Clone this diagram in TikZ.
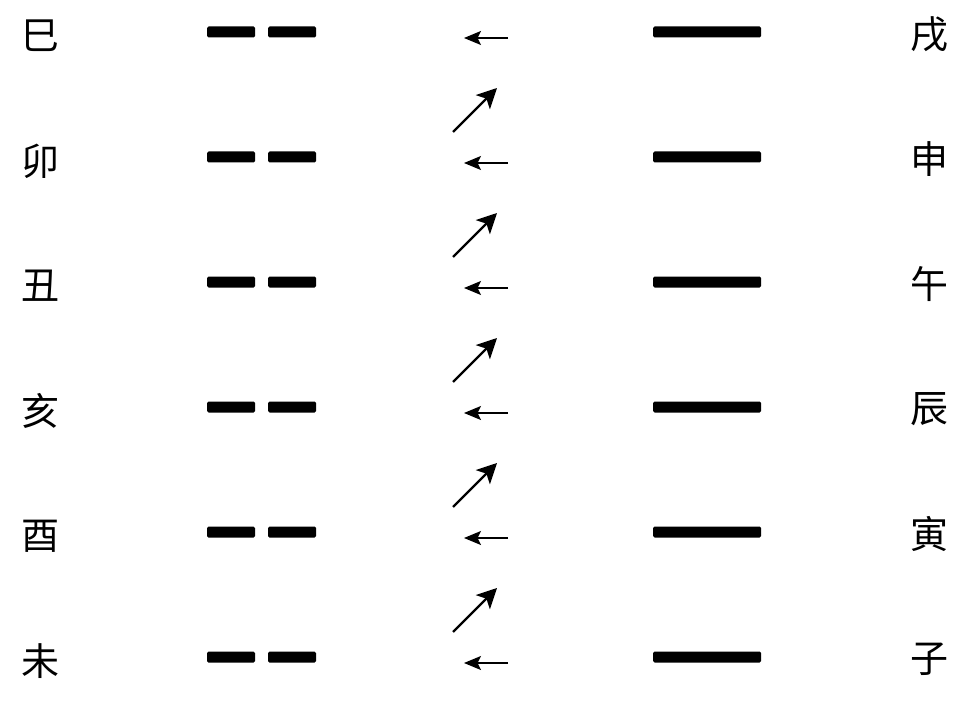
\documentclass[tikz,border=0pt]{standalone}
\usepackage{fontspec}
\newfontfamily\cjk{Noto Sans CJK SC}
\usetikzlibrary{arrows.meta}
\begin{document}
\begin{tikzpicture}[x=1pt,y=-1pt,
  hanzi/.style={font=\cjk\fontsize{38}{38}\selectfont, inner sep=0pt, anchor=center},
  yinbar/.style={fill=black, rounded corners=1.5pt, minimum width=48pt, minimum height=11pt, inner sep=0pt, draw=none},
  yangbar/.style={fill=black, rounded corners=1.5pt, minimum width=108pt, minimum height=11pt, inner sep=0pt, draw=none},
  leftarr/.style={line width=1.6pt, arrows={-Stealth[length=17pt,width=14pt,inset=3.5pt]}},
  diagarr/.style={line width=2.2pt, arrows={-Stealth[length=20pt,width=20pt,inset=5pt]}}]
\useasboundingbox (0,0) rectangle (978,706);
\foreach \i/\l/\r in {0/巳/戌,1/卯/申,2/丑/午,3/亥/辰,4/酉/寅,5/未/子}{
  \pgfmathsetmacro{\yy}{32+125*\i}
  \node[hanzi] (L\i) at (40,\yy+4) {\l};
  \node[hanzi] (R\i) at (929,\yy+2) {\r};
  \node[yinbar] (YA\i) at (231,\yy) {};
  \node[yinbar] (YB\i) at (292,\yy) {};
  \node[yangbar] (G\i) at (707,\yy) {};
  \coordinate (AS\i) at (508,\yy+6);
  \coordinate (AE\i) at (464,\yy+6);
  \draw[leftarr] (AS\i) -- (AE\i);
}
\foreach \i in {0,...,4}{
  \pgfmathsetmacro{\yy}{132+125*\i}
  \coordinate (DS\i) at (453,\yy);
  \coordinate (DE\i) at (497,\yy-44);
  \draw[diagarr] (DS\i) -- (DE\i);
}
\end{tikzpicture}
\end{document}
